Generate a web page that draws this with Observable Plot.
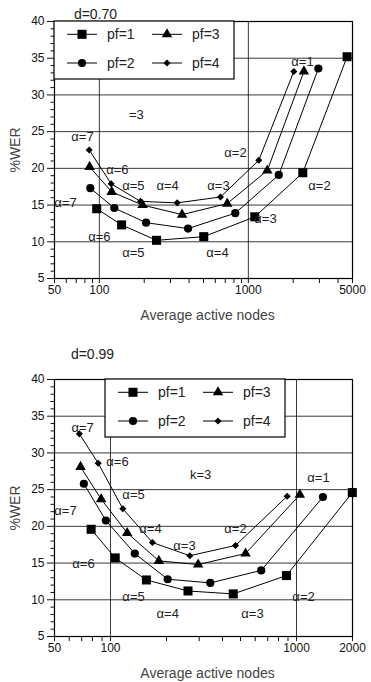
<!DOCTYPE html>
<html><head><meta charset="utf-8">
<script src="https://cdn.jsdelivr.net/npm/d3@7"></script>
<script src="https://cdn.jsdelivr.net/npm/@observablehq/plot@0.6"></script>
<style>
body{margin:0;background:#fff;font-family:"Liberation Sans",Arial,sans-serif}
#chart svg{display:block}
</style>
</head><body><div id="chart"></div>
<script>
const alpha = [1, 2, 3, 4, 5, 6, 7];
const seriesNames = ["pf=1", "pf=2", "pf=3", "pf=4"];

// Panel d=0.70 (x: average active nodes, y: %WER), alpha 1..7
const nodesA_pf1 = [4600, 2320, 1105, 502, 242, 141, 96];
const werA_pf1   = [35.2, 19.4, 13.4, 10.7, 10.2, 12.3, 14.5];
const nodesA_pf2 = [2950, 1600, 817, 394, 206, 126, 87];
const werA_pf2   = [33.6, 19.1, 13.9, 11.8, 12.6, 14.6, 17.3];
const nodesA_pf3 = [2360, 1340, 721, 359, 195, 121, 86];
const werA_pf3   = [33.2, 19.7, 15.2, 13.7, 15.0, 16.8, 20.2];
const nodesA_pf4 = [2020, 1175, 650, 333, 189, 120, 85.5];
const werA_pf4   = [33.2, 21.1, 16.1, 15.3, 15.5, 17.9, 22.5];

// Panel d=0.99
const nodesB_pf1 = [1995, 883, 457, 261, 156, 106, 78.7];
const werB_pf1   = [24.6, 13.3, 10.8, 11.2, 12.7, 15.7, 19.6];
const nodesB_pf2 = [1387, 646, 344, 203, 135, 94.4, 71.9];
const werB_pf2   = [24.0, 14.0, 12.3, 12.8, 16.3, 20.8, 25.8];
const nodesB_pf3 = [1042, 532, 296, 182, 123, 89.1, 69];
const werB_pf3   = [24.3, 16.3, 14.8, 15.3, 19.1, 23.7, 28.1];
const nodesB_pf4 = [891, 470, 267, 168, 116.5, 85.9, 68];
const werB_pf4   = [24.1, 17.4, 16.0, 17.8, 22.4, 28.6, 32.6];

// Annotations (data coordinates)
const notesA_text = ["α=1", "=3", "α=7", "α=2", "α=6", "α=5", "α=4", "α=3", "α=2", "α=7", "α=3", "α=6", "α=5", "α=4"];
const notesA_x    = [2307, 177, 77, 820, 132, 169, 287, 630, 3003, 59.3, 1303, 100, 169, 621];
const notesA_y    = [34.55, 27.25, 24.3, 22.1, 19.8, 17.66, 17.66, 17.66, 17.66, 15.36, 13.07, 10.64, 8.47, 8.47];

const notesB_text = ["α=7", "α=6", "k=3", "α=1", "α=5", "α=7", "α=4", "α=2", "α=3", "α=6", "α=5", "α=2", "α=4", "α=3"];
const notesB_x    = [70.8, 109, 305, 1313, 133, 57.3, 164, 470, 250, 71.6, 133, 1091, 203, 580];
const notesB_y    = [33.46, 28.83, 27.06, 26.65, 24.33, 22.15, 19.7, 19.7, 17.38, 14.93, 10.44, 10.44, 8.12, 8.12];

const yMajor = [5, 10, 15, 20, 25, 30, 35, 40];
const yMinor = d3.range(5, 41).filter(v => v % 5 !== 0);
const gridY = [10, 15, 20, 25, 30, 35];
const gridX = [100, 1000];
const xMajorA = [50, 100, 1000, 5000];
const xMinorA = [60, 70, 80, 90, 200, 300, 400, 500, 600, 700, 800, 900, 2000, 3000, 4000];
const xMajorB = [50, 100, 1000, 2000];
const xMinorB = [60, 70, 80, 90, 200, 300, 400, 500, 600, 700, 800, 900];

const symbols = ["square", "circle", "triangle", "diamond2"];
const radii = [5.1, 4.1, 3.9, 3.2];
const d3symbols = [d3.symbolSquare, d3.symbolCircle, d3.symbolTriangle, d3.symbolDiamond2];

function rows(nodes, wers) {
  const out = [];
  nodes.forEach((ns, k) => ns.forEach((n, i) => out.push({series: seriesNames[k], k, alpha: alpha[i], nodes: n, wer: wers[k][i]})));
  return out;
}
function notes(t, xs, ys) { return t.map((s, i) => ({text: s, x: xs[i], y: ys[i]})); }

function panel({data, notesData, domainX, xMajor, xMinor, height, mt, mb, title, titleDx, titleDy, legendDx}) {
  const marks = [
    Plot.ruleY(gridY, {stroke: "#222", strokeWidth: 0.9}),
    Plot.ruleX(gridX, {stroke: "#222", strokeWidth: 0.9}),
    Plot.axisY({ticks: yMinor, tickSize: 3.5, tickFormat: () => "", label: null}),
    Plot.axisY({ticks: yMajor, tickSize: 7, tickPadding: 3, fontSize: 12, label: null}),
    Plot.axisX({ticks: xMinor, tickSize: 5, tickFormat: () => "", label: null}),
    Plot.axisX({ticks: xMajor, tickSize: 5, tickPadding: 1.5, fontSize: 12, tickFormat: d3.format("d"), label: null}),
    Plot.line(data, {x: "nodes", y: "wer", z: "series", stroke: "#000", strokeWidth: 1}),
    ...symbols.map((s, k) => Plot.dot(data.filter(d => d.k === k), {x: "nodes", y: "wer", symbol: s, r: radii[k], fill: "#000", stroke: "none"})),
    Plot.text(notesData, {x: "x", y: "y", text: "text", fontSize: 13, fill: "#222"}),
    Plot.text([title], {frameAnchor: "top-left", dx: titleDx, dy: titleDy, textAnchor: "middle", lineAnchor: "middle", fontSize: 14, fill: "#222"}),
    Plot.text(["Average active nodes"], {frameAnchor: "bottom", dx: 4, dy: 37, textAnchor: "middle", lineAnchor: "middle", fontSize: 14, fill: "#444"}),
    Plot.text(["%WER"], {frameAnchor: "left", dx: -39, rotate: -90, textAnchor: "middle", lineAnchor: "middle", fontSize: 14, fill: "#444"}),
    Plot.frame({stroke: "#000", strokeWidth: 1.2})
  ];
  const svg = Plot.plot({
    width: 371, height, marginTop: mt, marginBottom: mb, marginLeft: 54, marginRight: 19,
    style: {fontFamily: "'Liberation Sans', Arial, sans-serif", fontSize: "12px", color: "#111", background: "#fff"},
    x: {type: "log", domain: domainX, axis: null, label: null},
    y: {domain: [5, 40], axis: null, label: null},
    marks
  });
  // legend box
  const g = d3.select(svg).append("g").attr("transform", `translate(${54 + legendDx},${mt})`)
    .attr("text-anchor", "start");
  g.append("rect").attr("x", 0).attr("y", 0).attr("width", 180).attr("height", 58)
    .attr("fill", "#fff").attr("stroke", "#000").attr("stroke-width", 1.2);
  const pos = [[0, 13.3], [0, 42], [85, 13.3], [85, 42]];
  seriesNames.forEach((name, k) => {
    const [ox, oy] = pos[k];
    g.append("line").attr("x1", ox + 13).attr("x2", ox + 43).attr("y1", oy).attr("y2", oy).attr("stroke", "#000");
    g.append("path").attr("d", d3.symbol(d3symbols[k], Math.PI * radii[k] * radii[k])())
      .attr("transform", `translate(${ox + 28},${oy})`).attr("fill", "#000");
    g.append("text").attr("x", ox + 53).attr("y", oy).attr("dy", "0.35em").attr("text-anchor", "start")
      .attr("font-size", 14).attr("fill", "#222").text(name);
  });
  return svg;
}

const el = document.getElementById("chart");
el.append(panel({
  data: rows([nodesA_pf1, nodesA_pf2, nodesA_pf3, nodesA_pf4], [werA_pf1, werA_pf2, werA_pf3, werA_pf4]),
  notesData: notes(notesA_text, notesA_x, notesA_y),
  domainX: [50, 5000], xMajor: xMajorA, xMinor: xMinorA,
  height: 330, mt: 21, mb: 52, title: "d=0.70", titleDx: 41, titleDy: -7, legendDx: 0
}));
el.append(panel({
  data: rows([nodesB_pf1, nodesB_pf2, nodesB_pf3, nodesB_pf4], [werB_pf1, werB_pf2, werB_pf3, werB_pf4]),
  notesData: notes(notesB_text, notesB_x, notesB_y),
  domainX: [50, 2000], xMajor: xMajorB, xMinor: xMinorB,
  height: 352, mt: 49, mb: 46, title: "d=0.99", titleDx: 38, titleDy: -25, legendDx: 51
}));
</script>
</body></html>
